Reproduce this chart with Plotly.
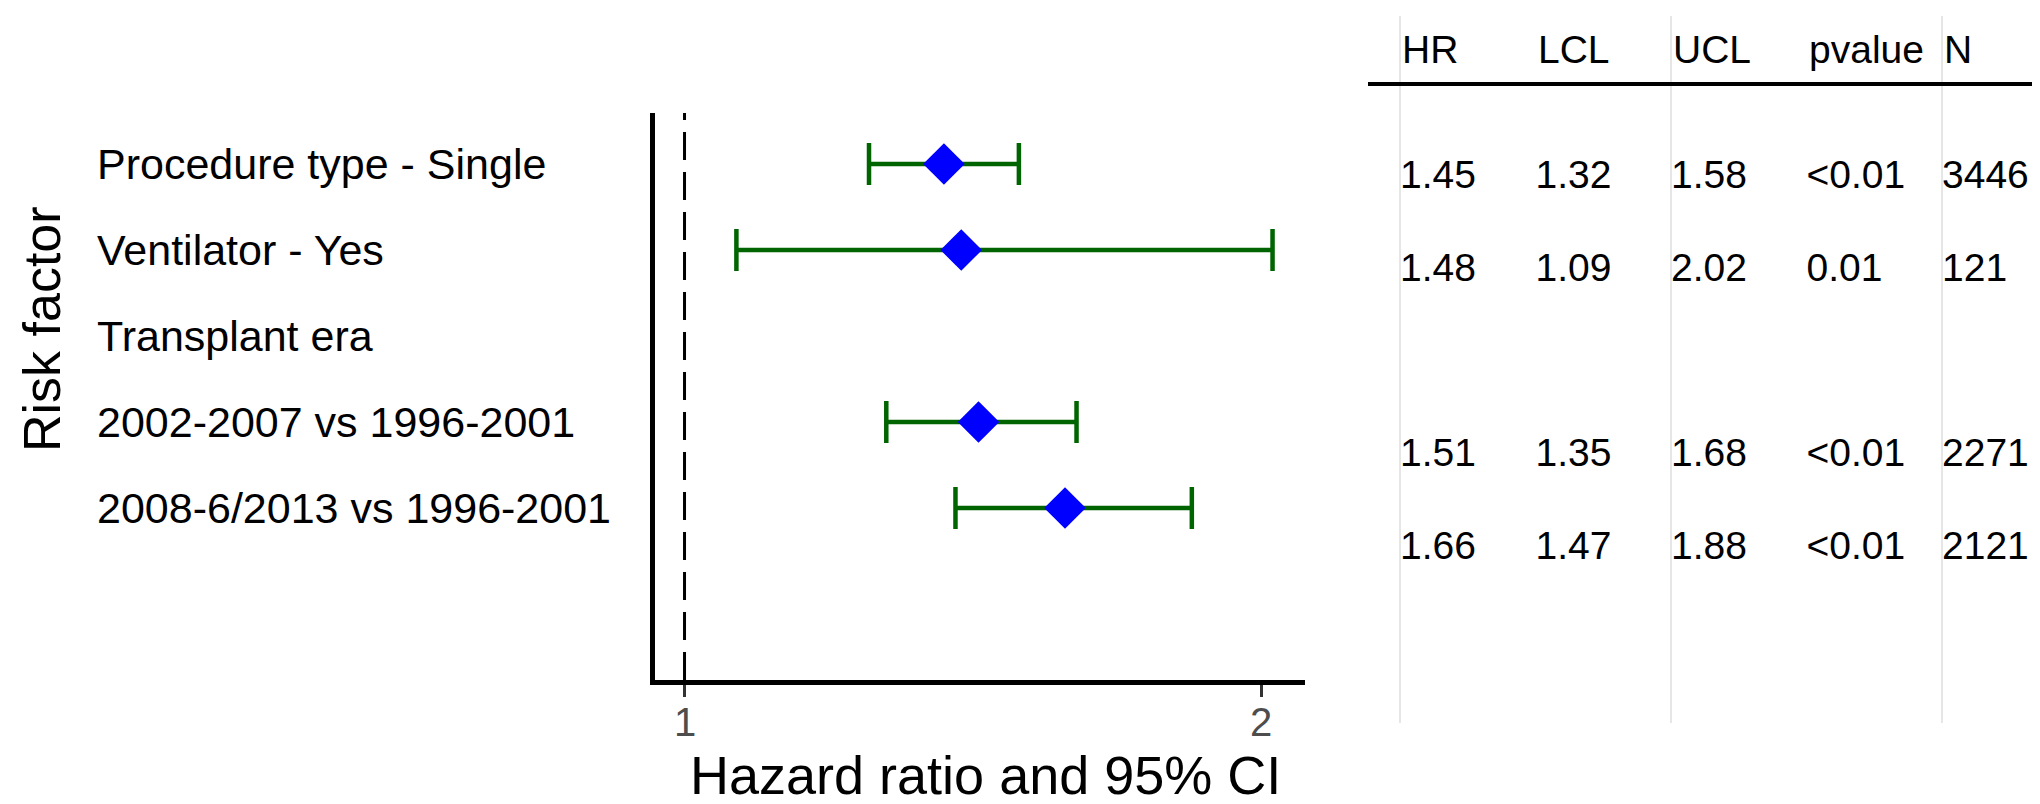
import plotly.graph_objects as go

# ---------------- data ----------------
factors = ["Procedure type - Single", "Ventilator - Yes", "Transplant era",
           "2002-2007 vs 1996-2001", "2008-6/2013 vs 1996-2001"]
hr = [1.45, 1.48, None, 1.51, 1.66]
lcl = [1.32, 1.09, None, 1.35, 1.47]
ucl = [1.58, 2.02, None, 1.68, 1.88]
pvalue = ["<0.01", "0.01", "", "<0.01", "<0.01"]
n_obs = [3446, 121, None, 2271, 2121]
table_cols = ["HR", "LCL", "UCL", "pvalue", "N"]
x_ticks = [1, 2]
ref_line = 1

# ---------------- layout helpers ----------------
W, H = 2040, 804
FONT = "Liberation Sans, Arial, Helvetica, sans-serif"


def px_x(p):
    return p / W


def px_y(p):
    return 1 - p / H


fig = go.Figure()

# forest plot points + CIs
idx = [i for i, v in enumerate(hr) if v is not None]
fig.add_trace(go.Scatter(
    x=[hr[i] for i in idx],
    y=[factors[i] for i in idx],
    mode="markers",
    marker=dict(symbol="diamond", size=32, color="#0000FF", line=dict(width=0)),
    error_x=dict(type="data", symmetric=False,
                 array=[ucl[i] - hr[i] for i in idx],
                 arrayminus=[hr[i] - lcl[i] for i in idx],
                 color="#006400", thickness=4.5, width=21),
    xaxis="x", yaxis="y", showlegend=False, hoverinfo="skip",
))


def fmt(v):
    if v is None:
        return ""
    if isinstance(v, float):
        return f"{v:.2f}"
    return str(v)


# table text columns
table_vals = {"HR": hr, "LCL": lcl, "UCL": ucl, "pvalue": pvalue, "N": n_obs}
for col in table_cols:
    vals = table_vals[col]
    rows = [i for i, v in enumerate(vals) if v not in (None, "")]
    fig.add_trace(go.Scatter(
        x=[col] * len(rows),
        y=[factors[i] for i in rows],
        text=[fmt(vals[i]) for i in rows],
        mode="text", textposition="middle right",
        textfont=dict(family=FONT, size=39, color="black"),
        xaxis="x2", yaxis="y2", showlegend=False, hoverinfo="skip",
    ))

annotations = []
# row labels (left aligned)
for f in factors:
    annotations.append(dict(
        x=px_x(87), xref="paper", xanchor="left",
        y=f, yref="y", yanchor="middle",
        text=f, showarrow=False,
        font=dict(family=FONT, size=43, color="black"),
    ))

# x tick labels
for t in x_ticks:
    annotations.append(dict(
        x=t, xref="x", xanchor="center",
        y=px_y(714), yref="paper", yanchor="middle",
        text=str(t), showarrow=False,
        font=dict(family=FONT, size=40, color="#4d4d4d"),
    ))

# table header
for col in table_cols:
    annotations.append(dict(
        x=col, xref="x2", xanchor="left",
        y=px_y(41), yref="paper", yanchor="middle",
        text=col, showarrow=False,
        font=dict(family=FONT, size=39, color="black"),
    ))

# axis titles
annotations.append(dict(
    x=px_x(977), xref="paper", xanchor="center",
    y=px_y(799), yref="paper", yanchor="bottom",
    text="Hazard ratio and 95% CI", showarrow=False,
    font=dict(family=FONT, size=54, color="black"),
))
annotations.append(dict(
    x=px_x(3), xref="paper", xanchor="left",
    y=px_y(321), yref="paper", yanchor="middle",
    text="Risk factor", textangle=-90, showarrow=False,
    font=dict(family=FONT, size=52, color="black"),
))

shapes = [
    # reference line at HR = 1
    dict(type="line", xref="x", yref="y domain", x0=ref_line, x1=ref_line,
         y0=0, y1=1, line=dict(color="black", width=3, dash="28px,12px")),
    # table header rule
    dict(type="line", xref="paper", yref="paper",
         x0=px_x(1360), x1=px_x(2035), y0=px_y(76), y1=px_y(76),
         line=dict(color="black", width=4)),
]

# forest panel geometry (pixels)
plot_left, plot_right = 647, 1297
plot_top, plot_bot = 105, 672
row0, row_step = 156, 86.0
y_lo = (plot_top - row0) / row_step
y_hi = (plot_bot - row0) / row_step

# table panel geometry (pixels)
tab_top, tab_bot = 8, 715
trow0, trow_step = 170, 92.8
ty_lo = (tab_top - trow0) / trow_step
ty_hi = (tab_bot - trow0) / trow_step

col_left, col_step = 1392, 135.5
tx_lo = -0.5
tx_hi = (W - col_left) / col_step

fig.update_layout(
    width=W, height=H,
    margin=dict(l=0, r=0, t=0, b=0),
    paper_bgcolor="white", plot_bgcolor="white",
    font=dict(family=FONT, color="black"),
    xaxis=dict(
        domain=[px_x(plot_left), px_x(plot_right)],
        range=[0.9488, 2.0763],
        tickvals=x_ticks, showticklabels=False,
        ticks="outside", ticklen=12, tickwidth=3, tickcolor="#333333",
        showline=True, linecolor="black", linewidth=4.5,
        showgrid=False, zeroline=False, anchor="y",
    ),
    yaxis=dict(
        domain=[px_y(plot_bot), px_y(plot_top)],
        type="category", categoryarray=factors, categoryorder="array",
        range=[y_hi, y_lo],
        showticklabels=False, ticks="",
        showline=True, linecolor="black", linewidth=4.5,
        showgrid=False, zeroline=False, anchor="x",
    ),
    xaxis2=dict(
        domain=[px_x(col_left + tx_lo * col_step), 1],
        type="category", categoryarray=table_cols, categoryorder="array",
        range=[tx_lo, tx_hi],
        tickvals=["HR", "UCL", "N"], showticklabels=False, ticks="",
        showgrid=True, gridcolor="#e6e6e6", gridwidth=2,
        showline=False, zeroline=False, anchor="y2",
    ),
    yaxis2=dict(
        domain=[px_y(tab_bot), px_y(tab_top)],
        type="category", categoryarray=factors, categoryorder="array",
        range=[ty_hi, ty_lo],
        showticklabels=False, ticks="", showgrid=False,
        showline=False, zeroline=False, anchor="x2",
    ),
    annotations=annotations,
    shapes=shapes,
)

fig.write_html("out.html")
